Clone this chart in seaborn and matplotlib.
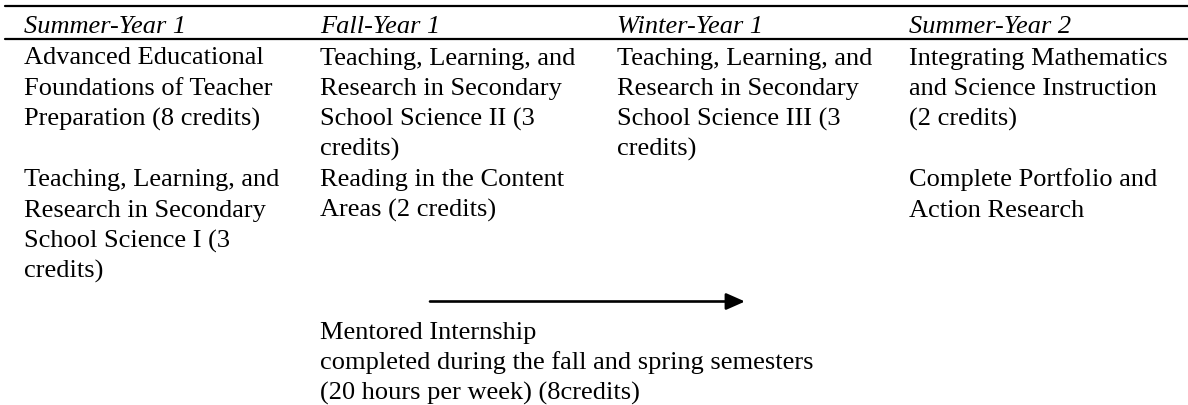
import matplotlib
matplotlib.use("Agg")
import matplotlib.pyplot as plt
from matplotlib import font_manager
import seaborn as sns
import pandas as pd
import glob

# ---- content ----
headers = ["Summer-Year 1", "Fall-Year 1", "Winter-Year 1", "Summer-Year 2"]
row1 = [
    ["Advanced Educational", "Foundations of Teacher", "Preparation (8 credits)"],
    ["Teaching, Learning, and", "Research in Secondary", "School Science II (3", "credits)"],
    ["Teaching, Learning, and", "Research in Secondary", "School Science III (3", "credits)"],
    ["Integrating Mathematics", "and Science Instruction", "(2 credits)"],
]
row2 = [
    ["Teaching, Learning, and", "Research in Secondary", "School Science I (3", "credits)"],
    ["Reading in the Content", "Areas (2 credits)"],
    [],
    ["Complete Portfolio and", "Action Research"],
]
internship = ["Mentored Internship",
              "completed during the fall and spring semesters",
              "(20 hours per week) (8credits)"]

# ---- font discovery ----
for pat in ["/usr/share/fonts/**/LiberationSerif*.ttf", "/usr/local/share/fonts/**/LiberationSerif*.ttf",
            "/usr/share/fonts/**/Liberation*Serif*.ttf"]:
    for f in glob.glob(pat, recursive=True):
        try:
            font_manager.fontManager.addfont(f)
        except Exception:
            pass
names = {f.name for f in font_manager.fontManager.ttflist}
serif = None
for cand in ["Liberation Serif", "Times New Roman", "Nimbus Roman", "TeX Gyre Termes", "DejaVu Serif"]:
    if cand in names:
        serif = cand
        break
if serif is None:
    serif = "serif"

# ---- layout (pixels) ----
W, H = 1188, 406
col_x = [24, 320, 617, 909]
y0 = 64.5          # baseline of first body line
lh = 30.5          # line pitch
fs = 19

sns.set_theme(style="white")
plt.rcParams['font.family'] = [serif, 'DejaVu Serif']

fig = plt.figure(figsize=(W / 100, H / 100), dpi=100)
ax = fig.add_axes([0, 0, 1, 1])

rules = pd.DataFrame({"x": [5, W, 5, W], "y": [7, 7, 40, 40], "g": ["a", "a", "b", "b"]})
sns.lineplot(data=rules, x="x", y="y", units="g", estimator=None, color="black",
             linewidth=1.6, ax=ax, legend=False)
ax.set_xlim(0, W)
ax.set_ylim(H, 0)
ax.axis("off")

for x, h in zip(col_x, headers):
    ax.text(x, 33, h, fontsize=fs, fontstyle="italic", va="baseline", ha="left", color="black")

for x, lines in zip(col_x, row1):
    for i, t in enumerate(lines):
        ax.text(x, y0 + i * lh, t, fontsize=fs, va="baseline", ha="left", color="black")

for x, lines in zip(col_x, row2):
    for i, t in enumerate(lines):
        ax.text(x, y0 + (4 + i) * lh, t, fontsize=fs, va="baseline", ha="left", color="black")

ay = y0 + 8 * lh - 6
ax.annotate("", xy=(745, ay), xytext=(430, ay),
            arrowprops=dict(arrowstyle="-|>,head_length=0.95,head_width=0.42",
                            color="black", lw=1.9, shrinkA=0, shrinkB=0))

for i, t in enumerate(internship):
    ax.text(col_x[1], y0 + (9 + i) * lh, t, fontsize=fs, va="baseline", ha="left", color="black")

fig.savefig("out.png", dpi=100)
